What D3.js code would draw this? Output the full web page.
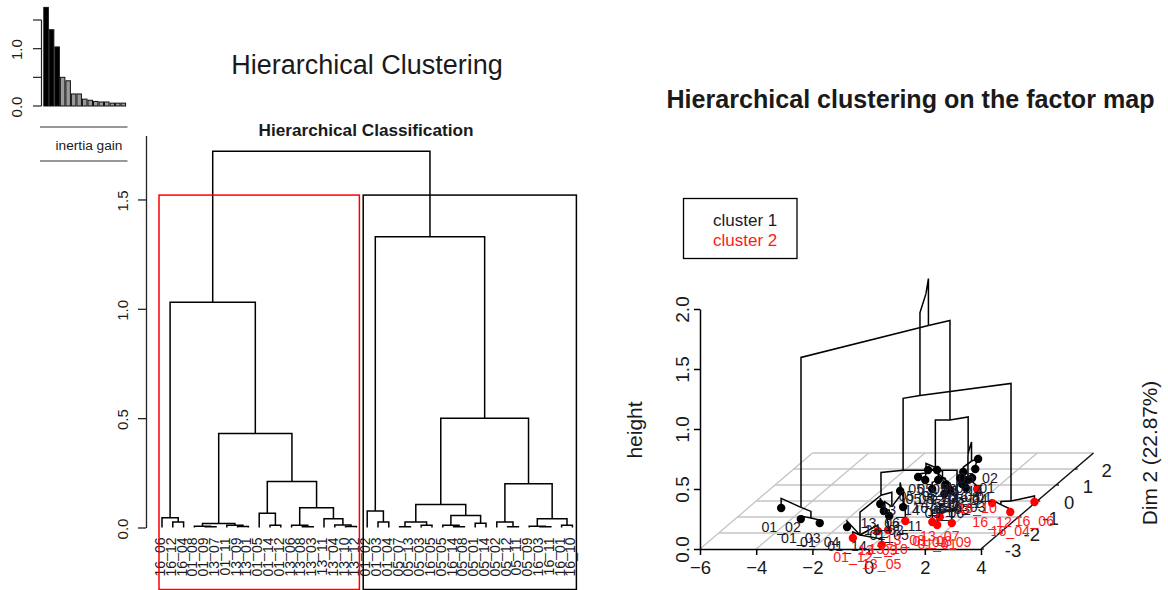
<!DOCTYPE html>
<html>
<head>
<meta charset="utf-8">
<script src="https://cdn.jsdelivr.net/npm/d3@7"></script>
<style>
  html, body { margin: 0; background: #fff; }
  text { font-family: "Liberation Sans", Arial, sans-serif; fill: #1a1a1a; }
</style>
</head>
<body>
<svg id="chart" width="1168" height="590"></svg>
<script>
// Inertia gain bars
const inertiaGain = [1.72, 1.33, 1.03, 0.50, 0.44, 0.21, 0.21, 0.12, 0.10, 0.08, 0.07, 0.07, 0.05, 0.05, 0.05];
const inertiaTicks = [0, 0.5, 1, 1.5];
const inertiaLabels = ["0.0", "", "1.0", ""];

// Dendrogram leaves, left to right
const leafLabels = [
  "16_06", "16_12", "16_04", "01_08", "01_09", "13_07", "01_11", "13_09", "13_01", "01_05",
  "01_14", "01_12", "13_06", "13_08", "13_03", "13_11", "13_04", "13_10", "13_12",
  "01_02", "01_03", "01_04", "05_07", "05_13", "05_03", "16_05", "05_05", "16_14", "05_08",
  "05_01", "05_14", "05_02", "05_12", "05_11", "05_09", "16_03", "16_11", "16_01", "16_10"
];

// hclust style merges: negative = leaf number, positive = earlier merge number
const mergeLeft = [-2, -1, -5, -4, -8, -7, 4, -11, -10, -14, -13, -18, -17, -16, 11, 9, 7, 2,
  -21, -20, -23, -25, 21, -28, -27, -30, 25, 23, -33, -32, -36, -35, -38, 32, 30, 28, 20, 18];
const mergeRight = [-3, 1, -6, 3, -9, 5, 6, -12, 8, -15, 10, -19, 12, 13, 14, 15, 16, 17,
  -22, 19, -24, -26, 22, -29, 24, -31, 26, 27, -34, 29, -37, 31, -39, 33, 34, 35, 36, 37];
const mergeHeight = [0.025, 0.045, 0.003, 0.006, 0.005, 0.010, 0.018, 0.010, 0.065, 0.003, 0.010, 0.005, 0.012, 0.040, 0.090, 0.21, 0.43, 1.03,
  0.025, 0.075, 0.004, 0.010, 0.025, 0.003, 0.010, 0.020, 0.055, 0.105, 0.003, 0.025, 0.003, 0.006, 0.010, 0.040, 0.20, 0.50, 1.33, 1.72];
const cutHeight = 1.52;
const dendroTicks = [0, 0.5, 1, 1.5];

// Factor map: individuals
const mapLabels = [
  "01_02", "01_03", "01_04",
  "05_05", "05_09", "05_12", "05_08",
  "05_07", "05_13", "05_03", "16_14", "05_06",
  "05_04", "05_11", "16_01", "16_08", "16_03", "16_10",
  "05_14", "05_01", "05_02",
  "01_14", "01_12", "13_09", "13_05",
  "13_06", "13_02", "01_05", "13_10",
  "13_14", "13_11", "13_08",
  "01_08", "13_07", "01_01", "01_09",
  "16_12", "16_04", "16_06"
];
const mapDim1 = [-4.82, -3.66, -2.82,
  -1.18, -0.86, -0.86, -1.24,
  -0.40, 0.06, 0.44, -0.24, 0.40,
  0.66, 0.62, 0.72, 0.30, 0.92, 1.36,
  0.16, 0.46, 0.14,
  -1.68, -1.02, -0.42, 0.30,
  -1.46, -1.04, -0.64, -0.10,
  -1.30, -0.52, 0.14,
  1.14, 1.20, 1.44, 1.88,
  2.48, 3.50, 3.94];
const mapDim2 = [-0.44, -1.13, -1.38,
  1.94, 1.94, 1.31, 1.50,
  1.31, 1.00, 0.69, 0.75, 0.44,
  1.31, 1.06, 1.44, 1.44, 0.81, 0.75,
  1.81, 2.00, 2.63,
  -1.63, -2.31, -1.88, -2.75,
  -0.19, -0.63, -0.94, -1.81,
  0.63, -0.38, -1.25,
  -1.31, -1.00, -1.50, -1.38,
  -0.13, -0.69, -0.06];
const mapCluster = [1, 1, 1,
  1, 1, 1, 1,
  1, 1, 1, 1, 1,
  1, 1, 1, 1, 1, 2,
  1, 1, 1,
  1, 2, 2, 2,
  1, 1, 1, 2,
  1, 1, 2,
  2, 2, 2, 2,
  2, 2, 2];
const mapParent = [3, 10, 10,
  20, 20, 20, 20,
  21, 21, 21, 21, 21,
  13, 13, 13, 13, 13, 13,
  14, 15, 15,
  16, 16, 16, 16,
  18, 18, 18, 18,
  19, 19, 19,
  8, 8, 8, 8,
  9, 9, 6];

// Factor map: tree nodes, position on the plane and merge height
const nodeDim1 = [0.00, 0.58, -0.54, -3.74, 0.02, 0.10, 3.32, -0.60, 2.02, 2.98, -3.22,
  -0.50, 0.54, 0.70, 0.20, 0.30, -0.64, -0.34, -0.80, -0.56, -1.00, -0.08];
const nodeDim2 = [0.06, -1.13, 1.00, -1.00, 1.31, -1.31, -0.38, -1.44, -1.31, -0.41, -1.25,
  1.31, 1.50, 1.25, 2.19, 2.31, -2.50, -1.25, -0.94, -0.31, 1.56, 1.06];
const nodeHeight = [1.72, 1.03, 1.33, 0.08, 0.50, 0.43, 0.05, 0.24, 0.10, 0.025, 0.025,
  0.105, 0.20, 0.025, 0.04, 0.02, 0.05, 0.12, 0.05, 0.07, 0.025, 0.055];
const nodeParent = [-1, 0, 0, 2, 2, 1, 1, 5, 5, 6, 3, 4, 4, 12, 12, 14, 7, 7, 17, 17, 11, 11];

const dim1Ticks = [-6, -4, -2, 0, 2, 4];
const dim2Ticks = [-3, -2, -1, 0, 1, 2];
const heightTicks = [0, 0.5, 1, 1.5, 2];
const clusterNames = ["cluster 1", "cluster 2"];
const clusterColors = ["#000000", "#ff0000"];

const svg = d3.select("#chart");

function addText(g, x, y, str, size, opts) {
  opts = opts || {};
  const t = g.append("text")
    .attr("x", x)
    .attr("y", y)
    .attr("font-size", size)
    .attr("text-anchor", opts.anchor || "middle")
    .text(str);
  if (opts.weight) t.attr("font-weight", opts.weight);
  if (opts.color) t.style("fill", opts.color);
  if (opts.rotate) t.attr("transform", "rotate(-90," + x + "," + y + ")");
  return t;
}

// ---- inertia gain bar plot ----
const gainX = d3.scaleBand().domain(d3.range(inertiaGain.length)).range([43.8, 125.6]).paddingInner(0.18);
const gainY = d3.scaleLinear().domain([0, 1.5]).range([106, 20]);
const gainG = svg.append("g");

gainG.selectAll("rect")
  .data(inertiaGain)
  .enter()
  .append("rect")
  .attr("x", (d, i) => gainX(i))
  .attr("y", d => gainY(d))
  .attr("width", gainX.bandwidth())
  .attr("height", d => gainY(0) - gainY(d))
  .attr("fill", (d, i) => i < 3 ? "#000" : "#999")
  .attr("stroke", "#111")
  .attr("stroke-width", 1);

gainG.append("line")
  .attr("x1", 41.5).attr("x2", 41.5).attr("y1", gainY(0)).attr("y2", gainY(1.5))
  .attr("stroke", "#222").attr("stroke-width", 1.2);
inertiaTicks.forEach((t, i) => {
  gainG.append("line")
    .attr("x1", 33).attr("x2", 41.5).attr("y1", gainY(t)).attr("y2", gainY(t))
    .attr("stroke", "#222").attr("stroke-width", 1.2);
  if (inertiaLabels[i]) addText(gainG, 22, gainY(t) + 1, inertiaLabels[i], 15, { rotate: true });
});

// box with the inertia gain caption
[127, 161].forEach(y => {
  svg.append("line").attr("x1", 40).attr("x2", 127.5).attr("y1", y).attr("y2", y)
    .attr("stroke", "#333").attr("stroke-width", 1.2);
});
addText(svg, 89, 150, "inertia gain", 13.7);

// ---- dendrogram ----
addText(svg, 367, 74, "Hierarchical Clustering", 27);
addText(svg, 366, 136, "Hierarchical Classification", 17.2, { weight: "bold" });

const leafX = d3.scaleLinear().domain([0, leafLabels.length - 1]).range([162, 572.4]);
const dendroY = d3.scaleLinear().domain([0, 1.792]).range([527.5, 135.6]);
const dendroG = svg.append("g");

const dendroAxis = d3.axisLeft(dendroY)
  .tickValues(dendroTicks)
  .tickSize(8)
  .tickSizeOuter(0)
  .tickFormat(d3.format(".1f"));
const axisG = dendroG.append("g")
  .attr("transform", "translate(146,0)")
  .call(dendroAxis);
axisG.selectAll("path, line").attr("stroke", "#222").attr("stroke-width", 1.3);
axisG.selectAll("text")
  .attr("font-size", 15)
  .attr("font-family", "Liberation Sans")
  .style("fill", "#1a1a1a")
  .attr("text-anchor", "middle")
  .attr("x", 0)
  .attr("dy", 0)
  .attr("transform", "translate(-18,1) rotate(-90)");

// walk the merges, each one sits over the middle of its two children
const mergeX = [];
function childX(id) { return id < 0 ? leafX(-id - 1) : mergeX[id - 1]; }
function childH(id) { return id < 0 ? 0 : mergeHeight[id - 1]; }
mergeHeight.forEach((h, i) => {
  const a = mergeLeft[i], b = mergeRight[i];
  const xa = childX(a), xb = childX(b);
  mergeX[i] = (xa + xb) / 2;
  dendroG.append("path")
    .attr("d", d3.line()([[xa, dendroY(childH(a))], [xa, dendroY(h)], [xb, dendroY(h)], [xb, dendroY(childH(b))]]))
    .attr("fill", "none")
    .attr("stroke", "#000")
    .attr("stroke-width", 1.5);
});

leafLabels.forEach((d, i) => {
  addText(dendroG, leafX(i) + 3, 537.5, d, 14, { anchor: "end", rotate: true });
});

// cut rectangles around the two clusters
dendroG.append("rect")
  .attr("x", leafX(0) - 3).attr("y", dendroY(cutHeight))
  .attr("width", leafX(18) - leafX(0) + 6).attr("height", 589.5 - dendroY(cutHeight))
  .attr("fill", "none").attr("stroke", "#ff0000").attr("stroke-width", 1.5);
dendroG.append("rect")
  .attr("x", leafX(19) - 4).attr("y", dendroY(cutHeight))
  .attr("width", leafX(38) - leafX(19) + 8).attr("height", 589.5 - dendroY(cutHeight))
  .attr("fill", "none").attr("stroke", "#000").attr("stroke-width", 1.5);

// ---- 3D factor map ----
addText(svg, 910.5, 108, "Hierarchical clustering on the factor map", 25.1, { weight: "bold" });

const dim1X = d3.scaleLinear().domain([-6, 4]).range([700, 981]);
const dim2DX = d3.scaleLinear().domain([-3, 3]).range([0, 112.5]);
const dim2DY = d3.scaleLinear().domain([-3, 3]).range([0, 96]);
const heightY = d3.scaleLinear().domain([0, 2]).range([549, 309]);

function project(d1, d2, h) {
  return [dim1X(d1) + dim2DX(d2), heightY(h) - dim2DY(d2)];
}

const mapG = svg.append("g");

// floor grid
dim2Ticks.concat([3]).slice(1).forEach(t => {
  mapG.append("line")
    .attr("x1", project(-6, t, 0)[0]).attr("y1", project(-6, t, 0)[1])
    .attr("x2", project(4, t, 0)[0]).attr("y2", project(4, t, 0)[1])
    .attr("stroke", "#c4c4c4").attr("stroke-width", 1.3);
});
dim1Ticks.forEach(t => {
  mapG.append("line")
    .attr("x1", project(t, -3, 0)[0]).attr("y1", project(t, -3, 0)[1])
    .attr("x2", project(t, 3, 0)[0]).attr("y2", project(t, 3, 0)[1])
    .attr("stroke", "#c4c4c4").attr("stroke-width", 1.3);
});

// axes
const bottomAxis = d3.axisBottom(dim1X).tickValues(dim1Ticks).tickSize(6).tickSizeOuter(0);
const bottomG = mapG.append("g").attr("transform", "translate(0,549)").call(bottomAxis);
bottomG.selectAll("path, line").attr("stroke", "#000").attr("stroke-width", 1.5);
bottomG.selectAll("text")
  .attr("font-size", 18.5).attr("font-family", "Liberation Sans")
  .style("fill", "#1a1a1a").attr("y", 8).attr("dy", "0.9em");

const leftAxis = d3.axisLeft(heightY).tickValues(heightTicks).tickSize(6).tickSizeOuter(0).tickFormat(d3.format(".1f"));
const leftG = mapG.append("g").attr("transform", "translate(700,0)").call(leftAxis);
leftG.selectAll("path, line").attr("stroke", "#000").attr("stroke-width", 1.5);
leftG.selectAll("text")
  .attr("font-size", 19).attr("font-family", "Liberation Sans")
  .style("fill", "#1a1a1a")
  .attr("text-anchor", "middle").attr("x", 0).attr("dy", 0)
  .attr("transform", "translate(-11,0) rotate(-90)");

const dim2Start = project(4, -3, 0), dim2End = project(4, 3, 0);
mapG.append("line")
  .attr("x1", dim2Start[0]).attr("y1", dim2Start[1])
  .attr("x2", dim2End[0]).attr("y2", dim2End[1])
  .attr("stroke", "#111").attr("stroke-width", 1.3);
dim2Ticks.forEach(t => {
  const p = project(4, t, 0);
  mapG.append("line").attr("x1", p[0]).attr("y1", p[1]).attr("x2", p[0] + 3).attr("y2", p[1])
    .attr("stroke", "#111").attr("stroke-width", 1.3);
  addText(mapG, p[0] + 32, p[1] + 8, String(t), 18.5);
});

// tree above the plane
function drawLink(d1, d2, h, parent) {
  const pd1 = nodeDim1[parent], pd2 = nodeDim2[parent], ph = nodeHeight[parent];
  mapG.append("path")
    .attr("d", d3.line()([project(d1, d2, h), project(d1, d2, ph), project(pd1, pd2, ph)]))
    .attr("fill", "none")
    .attr("stroke", "#000")
    .attr("stroke-width", 1.5);
}
nodeParent.forEach((p, i) => {
  if (p >= 0) drawLink(nodeDim1[i], nodeDim2[i], nodeHeight[i], p);
});
mapParent.forEach((p, i) => drawLink(mapDim1[i], mapDim2[i], 0, p));

// individuals and their names
mapLabels.forEach((d, i) => {
  const p = project(mapDim1[i], mapDim2[i], 0);
  mapG.append("circle")
    .attr("cx", p[0]).attr("cy", p[1]).attr("r", 4.2)
    .attr("fill", clusterColors[mapCluster[i] - 1]);
});
mapLabels.forEach((d, i) => {
  const p = project(mapDim1[i], mapDim2[i], 0);
  addText(mapG, p[0], p[1] + 24, d, 14.2, { color: mapCluster[i] === 2 ? "#ff1a1a" : "#1a1a2a" });
});

addText(svg, 642, 430, "height", 21, { rotate: true });
addText(svg, 1157, 453, "Dim 2 (22.87%)", 20.8, { rotate: true });

// legend
svg.append("rect")
  .attr("x", 683.5).attr("y", 198.5).attr("width", 113.5).attr("height", 60)
  .attr("fill", "#fff").attr("stroke", "#000").attr("stroke-width", 1.3);
clusterNames.forEach((d, i) => {
  addText(svg, 713, 226 + i * 20, d, 17, { anchor: "start", color: clusterColors[i] === "#000000" ? "#1a1a2a" : "#ff1a1a" });
});
</script>
</body>
</html>
